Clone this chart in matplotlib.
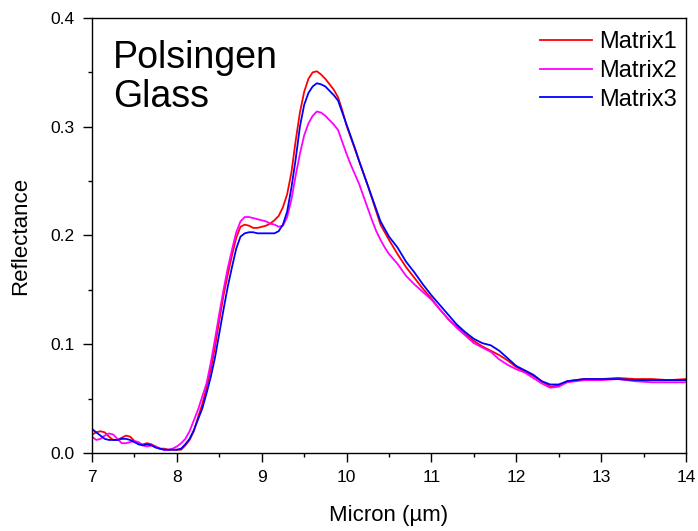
import matplotlib
matplotlib.use("Agg")
import matplotlib.pyplot as plt
from matplotlib.ticker import MultipleLocator

plt.rcParams['font.family'] = ['Liberation Sans', 'DejaVu Sans']

# Wavelength grid (micron)
wavelength = [
    7.00, 7.05, 7.10, 7.15, 7.20, 7.25, 7.30, 7.35, 7.40, 7.45,
    7.50, 7.55, 7.60, 7.65, 7.70, 7.75, 7.80, 7.85, 7.90, 7.95, 8.00,
    8.05, 8.10, 8.15, 8.20, 8.25, 8.30, 8.35, 8.40, 8.45, 8.50,
    8.55, 8.60, 8.65, 8.70, 8.75, 8.80, 8.85, 8.90, 8.95, 9.00,
    9.05, 9.10, 9.15, 9.20, 9.25, 9.30, 9.35, 9.40, 9.45, 9.50,
    9.55, 9.60, 9.65, 9.70, 9.75, 9.80, 9.85, 9.90, 9.95, 10.00,
    10.05, 10.10, 10.15, 10.20, 10.25, 10.30, 10.35, 10.40, 10.45, 10.50,
    10.6, 10.7, 10.8, 10.9, 11.0, 11.1, 11.2, 11.3, 11.4, 11.5,
    11.6, 11.7, 11.8, 11.9, 12.0, 12.1, 12.2, 12.3, 12.4, 12.5,
    12.6, 12.7, 12.8,
    13.0, 13.2, 13.4, 13.6, 13.8, 14.0,
]

matrix1 = [
    0.017, 0.019, 0.020, 0.019, 0.015, 0.012, 0.012, 0.014, 0.016, 0.015,
    0.011, 0.008, 0.008, 0.009, 0.008, 0.006, 0.004, 0.004, 0.003, 0.003, 0.003,
    0.003, 0.007, 0.012, 0.020, 0.033, 0.045, 0.060, 0.077, 0.098, 0.122,
    0.145, 0.164, 0.182, 0.198, 0.208, 0.210, 0.209, 0.207, 0.207, 0.208,
    0.209, 0.211, 0.214, 0.218, 0.226, 0.238, 0.258, 0.287, 0.313, 0.332,
    0.344, 0.350, 0.351, 0.348, 0.344, 0.339, 0.334, 0.327, 0.315, 0.301,
    0.290, 0.279, 0.268, 0.257, 0.246, 0.234, 0.222, 0.210, 0.203, 0.196,
    0.183, 0.171, 0.161, 0.151, 0.142, 0.132, 0.123, 0.116, 0.109, 0.103,
    0.098, 0.094, 0.090, 0.085, 0.079, 0.075, 0.071, 0.066, 0.061, 0.062,
    0.066, 0.067, 0.068,
    0.068, 0.069, 0.068, 0.068, 0.067, 0.068,
]

matrix2 = [
    0.015, 0.012, 0.013, 0.016, 0.018, 0.017, 0.013, 0.009, 0.009, 0.010,
    0.011, 0.010, 0.007, 0.006, 0.007, 0.006, 0.004, 0.003, 0.003, 0.004, 0.006,
    0.009, 0.013, 0.020, 0.030, 0.040, 0.052, 0.064, 0.083, 0.105, 0.128,
    0.150, 0.170, 0.187, 0.203, 0.213, 0.217, 0.217, 0.216, 0.215, 0.214,
    0.213, 0.211, 0.210, 0.208, 0.209, 0.217, 0.233, 0.255, 0.275, 0.292,
    0.303, 0.310, 0.314, 0.313, 0.310, 0.306, 0.302, 0.297, 0.286, 0.275,
    0.265, 0.256, 0.247, 0.236, 0.225, 0.214, 0.204, 0.196, 0.189, 0.183,
    0.174, 0.163, 0.155, 0.148, 0.141, 0.132, 0.123, 0.115, 0.108, 0.101,
    0.097, 0.093, 0.086, 0.081, 0.077, 0.074, 0.069, 0.064, 0.060, 0.061,
    0.065, 0.066, 0.067,
    0.067, 0.068, 0.066, 0.065, 0.065, 0.065,
]

matrix3 = [
    0.022, 0.019, 0.016, 0.013, 0.012, 0.012, 0.012, 0.013, 0.013, 0.012,
    0.010, 0.008, 0.007, 0.008, 0.007, 0.005, 0.004, 0.003, 0.003, 0.003, 0.003,
    0.004, 0.008, 0.013, 0.021, 0.031, 0.041, 0.055, 0.070, 0.088, 0.110,
    0.132, 0.153, 0.171, 0.188, 0.199, 0.202, 0.203, 0.203, 0.202, 0.202,
    0.202, 0.202, 0.202, 0.204, 0.210, 0.222, 0.244, 0.270, 0.300, 0.320,
    0.331, 0.337, 0.340, 0.339, 0.337, 0.333, 0.329, 0.324, 0.313, 0.302,
    0.291, 0.280, 0.268, 0.257, 0.246, 0.235, 0.224, 0.213, 0.206, 0.199,
    0.189, 0.176, 0.166, 0.155, 0.145, 0.136, 0.127, 0.118, 0.111, 0.105,
    0.101, 0.099, 0.094, 0.087, 0.080, 0.076, 0.072, 0.066, 0.063, 0.063,
    0.066, 0.067, 0.068,
    0.068, 0.068, 0.067, 0.067, 0.067, 0.067,
]

series = [
    ("Matrix1", matrix1, "#ff0000"),
    ("Matrix2", matrix2, "#ff00ff"),
    ("Matrix3", matrix3, "#0000ff"),
]

fig = plt.figure(figsize=(6.98, 5.31), dpi=100)
ax = fig.add_axes([0.1318, 0.1469, 0.8510, 0.8192])

for name, values, color in series:
    ax.plot(wavelength, values, color=color, lw=1.3, label=name)

ax.set_xlim(7, 14)
ax.set_ylim(0, 0.4)
ax.xaxis.set_major_locator(MultipleLocator(1))
ax.xaxis.set_minor_locator(MultipleLocator(0.5))
ax.yaxis.set_major_locator(MultipleLocator(0.1))
ax.yaxis.set_minor_locator(MultipleLocator(0.05))
ax.yaxis.set_major_formatter(plt.FuncFormatter(lambda v, p: f"{v:.1f}"))

ax.tick_params(which='major', direction='out', length=6.5, width=1.0,
               labelsize=12.5, pad=6, top=False, right=False)
ax.tick_params(which='minor', direction='out', length=3, width=1.0,
               top=False, right=False)
for sp in ax.spines.values():
    sp.set_linewidth(1.0)

ax.set_xlabel("Micron (µm)", fontsize=16, labelpad=14)
ax.set_ylabel("Reflectance", fontsize=16, labelpad=14)

ax.text(0.035, 0.95, "Polsingen\nGlass", transform=ax.transAxes,
        fontsize=27, va='top', ha='left', linespacing=1.12)

leg = ax.legend(loc='upper right', bbox_to_anchor=(0.996, 0.9855),
                frameon=False, fontsize=17,
                handlelength=2.2, handletextpad=0.28, labelspacing=0.28,
                borderaxespad=0.0, borderpad=0.3)

fig.savefig("out.png", dpi=100)
